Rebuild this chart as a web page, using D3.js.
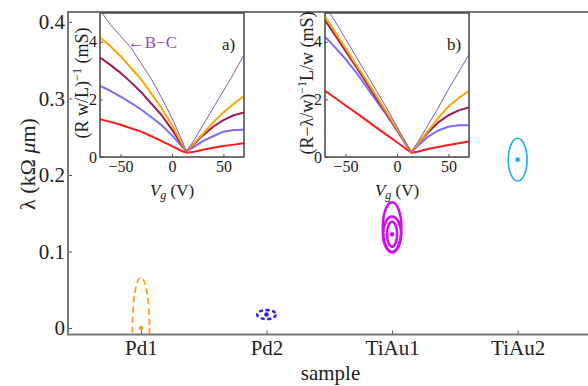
<!DOCTYPE html>
<meta charset="utf-8">
<style>
body { margin: 0; background: #fff; }
svg { display: block; }
svg text { font-family: "Liberation Serif", "Times New Roman", serif; }
.frame { fill: none; stroke: #777; stroke-width: 2; }
.inset-frame { fill: #fff; stroke: #444; stroke-width: 1; }
.axis path { display: none; }
.axis line { stroke: #555; }
.axis text { fill: #222; }
</style>
<svg width="588" height="386"></svg>
<script src="https://cdn.jsdelivr.net/npm/d3@7"></script>
<script>

var serif = '"Liberation Serif", "Times New Roman", serif';

// main chart: lambda per sample
var samples = ["Pd1", "Pd2", "TiAu1", "TiAu2"];
var lambdaTicks = [0, 0.1, 0.2, 0.3, 0.4];

// uncertainty ellipses (sample index, centre, half height in lambda, half width in sample units)
var ellSample = [1, 2, 3, 3, 3, 4];
var ellLambda = [0, 0.0176, 0.1316, 0.1226, 0.1226, 0.22];
var ellHalfLambda = [0.066, 0.0059, 0.0327, 0.0229, 0.0163, 0.0279];
var ellHalfWidth = [0.068, 0.075, 0.074, 0.072, 0.040, 0.075];

// best-fit points
var dotSample = [1, 2, 3, 4];
var dotLambda = [0, 0.0176, 0.1225, 0.22];

var sampleColor = ["#ff9f1a", "#2b1bff", "#cc11ee", "#1aaaf0"];

// insets: conductance vs gate voltage
var vg = [-70, -60, -50, -40, -30, -20, -10, 0, 10, 14, 20, 30, 40, 50, 60, 70];

var aPurple = [5.1, 4.6, 4.2, 3.8, 3.25, 2.7, 2.05, 1.35, 0.55, 0.18, 0.5, 1.1, 1.7, 2.3, 2.9, 3.55];
var aOrange = [4.15, 3.85, 3.5, 3.1, 2.7, 2.2, 1.7, 1.1, 0.45, 0.2, 0.42, 0.8, 1.2, 1.55, 1.85, 2.12];
var aMaroon = [3.45, 3.2, 2.92, 2.6, 2.25, 1.85, 1.45, 0.95, 0.4, 0.2, 0.4, 0.75, 1.05, 1.28, 1.45, 1.55];
var aBlue   = [2.47, 2.3, 2.1, 1.88, 1.65, 1.38, 1.1, 0.75, 0.35, 0.2, 0.32, 0.55, 0.72, 0.88, 0.94, 0.95];
var aRed    = [1.31, 1.22, 1.12, 1.0, 0.88, 0.72, 0.55, 0.38, 0.2, 0.15, 0.17, 0.25, 0.32, 0.38, 0.43, 0.48];

var bPurple = [5.25, 4.7, 4.1, 3.5, 2.9, 2.3, 1.7, 1.05, 0.4, 0.15, 0.5, 1.1, 1.7, 2.35, 2.95, 3.56];
var bOrange = [4.87, 4.33, 3.78, 3.22, 2.68, 2.12, 1.55, 0.98, 0.38, 0.17, 0.45, 0.9, 1.35, 1.75, 2.05, 2.3];
var bMaroon = [4.75, 4.22, 3.68, 3.14, 2.6, 2.05, 1.5, 0.95, 0.38, 0.17, 0.45, 0.85, 1.2, 1.45, 1.62, 1.72];
var bBlue   = [4.18, 3.8, 3.4, 2.95, 2.45, 1.95, 1.45, 0.92, 0.35, 0.17, 0.38, 0.7, 0.92, 1.05, 1.1, 1.1];
var bRed    = [2.3, 2.05, 1.79, 1.54, 1.28, 1.02, 0.77, 0.51, 0.25, 0.15, 0.18, 0.28, 0.35, 0.42, 0.48, 0.54];

var curveColor = ["#ff1a1a", "#7b6cf6", "#9b1b5a", "#ffa500", "#8a55b5"];
var curveWidth = [2, 2, 2, 2, 1];

var svg = d3.select("svg");

// ---------- main plot ----------
var x = d3.scaleLinear().domain([0.419, 4.6]).range([68, 593]);
var y = d3.scaleLinear().domain([-0.0085, 0.413]).range([334.5, 12]);

svg.append("clipPath").attr("id", "mainclip")
  .append("rect")
    .attr("x", x.range()[0]).attr("y", y.range()[1])
    .attr("width", x.range()[1] - x.range()[0])
    .attr("height", y.range()[0] - y.range()[1]);

var ells = svg.append("g").attr("clip-path", "url(#mainclip)");

ellSample.forEach(function (s, i) {
  var e = ells.append("ellipse")
      .attr("cx", x(s))
      .attr("cy", y(ellLambda[i]))
      .attr("rx", x(s + ellHalfWidth[i]) - x(s))
      .attr("ry", y(0) - y(ellHalfLambda[i]))
      .attr("fill", "none")
      .attr("stroke", sampleColor[s - 1]);
  if (s == 1) e.attr("stroke-width", 1.8).attr("stroke-dasharray", "6,4");
  else if (s == 2) e.attr("stroke-width", 2.5).attr("stroke-dasharray", "4,2.5");
  else if (s == 3) e.attr("stroke-width", 2.6);
  else e.attr("stroke-width", 1.6);
});

ells.selectAll("circle.dot")
  .data(dotSample)
  .enter().append("circle")
    .attr("class", "dot")
    .attr("cx", function (d) { return x(d); })
    .attr("cy", function (d, i) { return y(dotLambda[i]); })
    .attr("r", 2.3)
    .attr("fill", function (d) { return sampleColor[d - 1]; });

svg.append("g").attr("class", "axis")
    .attr("transform", "translate(" + x.range()[0] + ",0)")
    .call(d3.axisLeft(y).tickValues(lambdaTicks).tickSize(-4).tickPadding(3)
      .tickFormat(function (d) { return d === 0 ? "0" : d3.format(".1f")(d); }))
    .attr("font-family", serif)
    .selectAll("text").style("font-size", "21px").style("font-family", serif);

svg.append("g").attr("class", "axis")
    .attr("transform", "translate(0," + y.range()[0] + ")")
    .call(d3.axisBottom(x).tickValues([1, 2, 3, 4]).tickSize(-4).tickPadding(6)
      .tickFormat(function (d) { return samples[d - 1]; }))
    .attr("font-family", serif)
    .selectAll("text").style("font-size", "21px").style("font-family", serif);

svg.append("rect").attr("class", "frame")
    .attr("x", x.range()[0]).attr("y", y.range()[1])
    .attr("width", x.range()[1] - x.range()[0] + 4)
    .attr("height", y.range()[0] - y.range()[1]);

svg.append("text")
    .attr("x", (x.range()[0] + x.range()[1]) / 2)
    .attr("y", 380)
    .attr("text-anchor", "middle")
    .style("font-size", "21px").attr("fill", "#222")
    .text("sample");

var yl = svg.append("text")
    .attr("transform", "translate(35,164) rotate(-90)")
    .attr("text-anchor", "middle")
    .style("font-size", "22px").attr("fill", "#222");
yl.append("tspan").text("λ (kΩ ");
yl.append("tspan").style("font-style", "italic").text("μ");
yl.append("tspan").text("m)");

// ---------- insets ----------
function drawInset(left, right, series, tag, labelParts) {
  var ix = d3.scaleLinear().domain([-70, 70]).range([left, right]);
  var iy = d3.scaleLinear().domain([0, 5]).range([157, 13]);
  var g = svg.append("g");
  var id = "clip" + tag;

  g.append("rect").attr("class", "inset-frame")
      .attr("x", left).attr("y", 13).attr("width", right - left).attr("height", 144);

  g.append("clipPath").attr("id", id).append("rect")
      .attr("x", left).attr("y", 13).attr("width", right - left).attr("height", 144);

  var line = d3.line()
      .x(function (d, i) { return ix(vg[i]); })
      .y(function (d) { return iy(d); });

  var lines = g.append("g").attr("clip-path", "url(#" + id + ")");
  series.forEach(function (s, k) {
    lines.append("path")
        .attr("d", line(s))
        .attr("fill", "none")
        .attr("stroke", curveColor[k])
        .attr("stroke-width", curveWidth[k])
        .attr("stroke-linejoin", "round");
  });

  g.append("g").attr("class", "axis")
      .attr("transform", "translate(0,157)")
      .call(d3.axisBottom(ix).tickValues([-50, 0, 50]).tickSize(-3).tickPadding(4)
        .tickFormat(d3.format("d")))
      .attr("font-family", serif)
      .selectAll("text").style("font-size", "16px").style("font-family", serif);

  g.append("g").attr("class", "axis")
      .attr("transform", "translate(" + left + ",0)")
      .call(d3.axisLeft(iy).tickValues([0, 2, 4]).tickSize(-3).tickPadding(3)
        .tickFormat(d3.format("d")))
      .attr("font-family", serif)
      .selectAll("text").style("font-size", "16px").style("font-family", serif);

  g.append("rect").attr("x", left).attr("y", 13).attr("width", right - left).attr("height", 144)
      .attr("fill", "none").attr("stroke", "#444").attr("stroke-width", 1);

  var xl = g.append("text")
      .attr("x", (left + right) / 2).attr("y", 196)
      .attr("text-anchor", "middle")
      .style("font-size", "17px").attr("fill", "#222");
  xl.append("tspan").style("font-style", "italic").text("V");
  xl.append("tspan").style("font-style", "italic").style("font-size", "12px").attr("dy", 3).text("g");
  xl.append("tspan").attr("dy", -3).text(" (V)");

  var lab = g.append("text")
      .attr("transform", "translate(" + (left - 12) + ",83) rotate(-90)")
      .attr("text-anchor", "middle")
      .style("font-size", "18px").attr("fill", "#222");
  lab.append("tspan").text(labelParts[0]);
  lab.append("tspan").style("font-size", "12px").attr("dy", -7).text("−1");
  lab.append("tspan").attr("dy", 7).text(labelParts[1]);

  g.append("text")
      .attr("x", right - 22).attr("y", 50)
      .style("font-size", "17px").attr("fill", "#222")
      .text(tag + ")");
  return ix;
}

var ixA = drawInset(100, 244, [aRed, aBlue, aMaroon, aOrange, aPurple], "a", ["(R w/L)", " (mS)"]);
drawInset(325, 469, [bRed, bBlue, bMaroon, bOrange, bPurple], "b", ["(R−λ/w)", "L/w (mS)"]);

svg.append("text")
    .attr("x", ixA(-43)).attr("y", 48)
    .style("font-size", "17px").attr("fill", "#8a55b5")
    .text("←B−C");

</script>
